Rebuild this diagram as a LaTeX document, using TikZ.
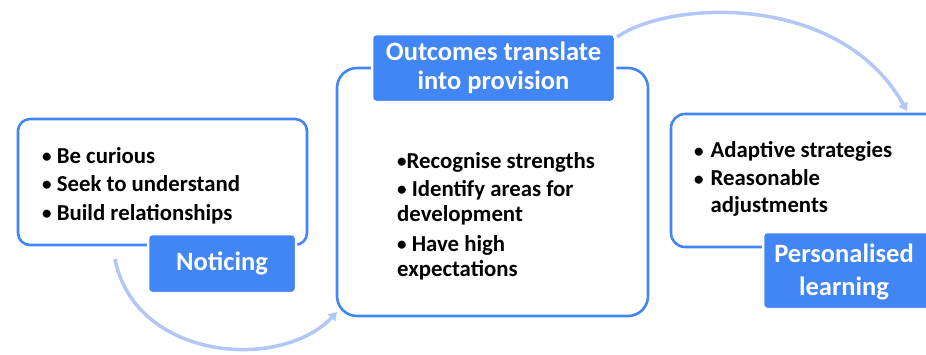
\documentclass[tikz,border=0pt]{standalone}
\usepackage{fontspec}
\setmainfont{Carlito}
\usetikzlibrary{arrows.meta}
\definecolor{gblue}{HTML}{4285F4}
\definecolor{lblue}{HTML}{B3C7F7}
\newcommand{\bul}{{\fontsize{19}{19}\selectfont\raisebox{0.5pt}{\textbullet}}}
\begin{document}
\begin{tikzpicture}[x=1pt,y=-1pt,
  frame/.style={draw=gblue,line width=2.6pt,fill=white},
  tag/.style={fill=gblue,draw=white,line width=2.5pt,rounded corners=4pt},
  tagtext/.style={text=white,font=\bfseries\fontsize{26.5}{29}\selectfont,align=center,inner sep=0pt},
  body/.style={font=\bfseries\fontsize{22.8}{25}\selectfont,align=left,inner sep=0pt,anchor=north west},
  flow/.style={draw=lblue,line width=3.5pt,-{Triangle[length=8pt,width=10pt]}}]
\useasboundingbox (0,0) rectangle (926,354);
\clip (0,0) rectangle (926,354);
\fill[white] (0,0) rectangle (926,354);
% connectors
\coordinate (a1) at (115,259);
\coordinate (a2) at (337,312);
\draw[flow] (a1) .. controls (135,360) and (280,372) .. (a2);
\coordinate (b1) at (617,37);
\coordinate (b2) at (907,111);
\draw[flow] (b1) .. controls (670,0) and (840,-8) .. (b2);
% boxes
\draw[frame,rounded corners=12pt] (18,119) rectangle (307,245);
\draw[frame,rounded corners=20pt] (337,68) rectangle (648,316);
\draw[frame,rounded corners=14pt] (671,114) rectangle (960,247);
% tags
\draw[tag] (148,234) rectangle (296,293);
\node[tagtext] (n1) at (222,263.5) {Noticing};
\draw[tag] (372,34) rectangle (615,102);
\node[tagtext] (n2) at (493.5,68) {Outcomes translate\\into provision};
\draw[tag] (763,232) rectangle (960,309);
\node[tagtext,font=\bfseries\fontsize{26.5}{33}\selectfont] (n3) at (844,272) {Personalised\\learning};
% texts
\node[body] (t1) at (42,147) {\bul\ Be curious\\[3pt]\bul\ Seek to understand\\[4pt]\bul\ Build relationships};
\node[body] (t2) at (397,152) {\bul Recognise strengths\\[3pt]\bul\ Identify areas for\\development\\[5pt]\bul\ Have high\\expectations};
\node[body] (t3) at (694,140) {\begin{tabular}{@{}l@{\hspace{7pt}}l@{}}\bul & Adaptive strategies\\[3pt]\bul & Reasonable\\[1.5pt] & adjustments\end{tabular}};
\end{tikzpicture}
\end{document}
